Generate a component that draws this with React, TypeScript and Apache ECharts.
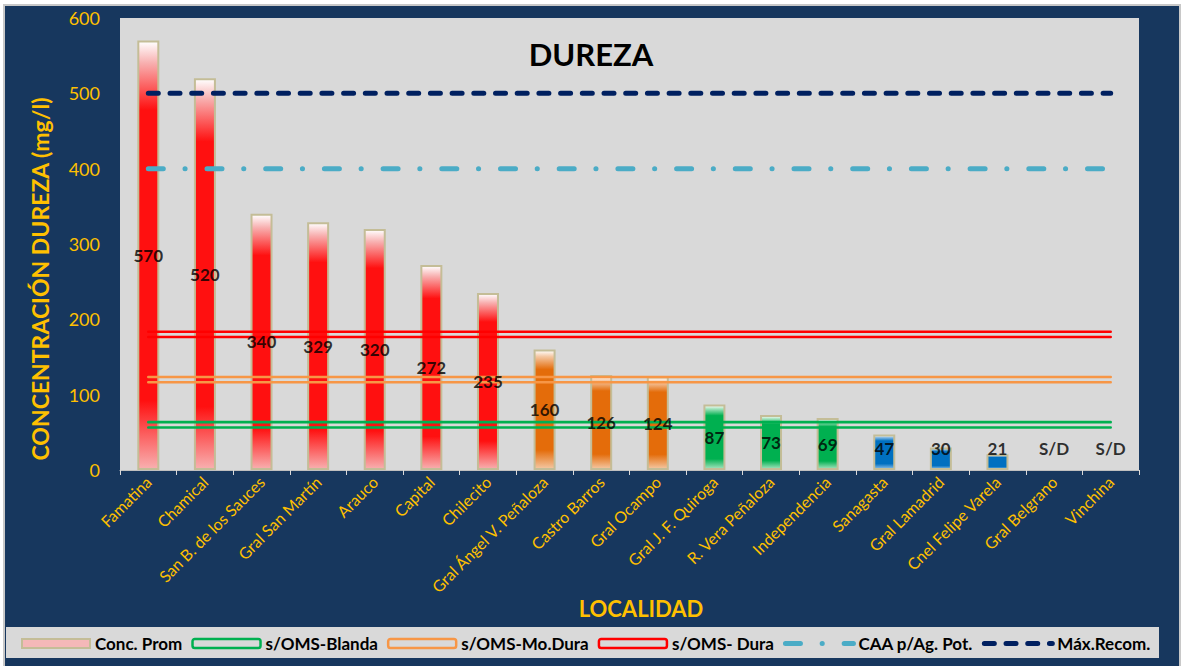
import React, { useEffect, useRef } from "react";
import * as echarts from "echarts";

const categories = [
  "Famatina", "Chamical", "San B. de los Sauces", "Gral San Martín", "Arauco",
  "Capital", "Chilecito", "Gral Ángel V. Peñaloza", "Castro Barros", "Gral Ocampo",
  "Gral J. F. Quiroga", "R. Vera Peñaloza", "Independencia", "Sanagasta",
  "Gral Lamadrid", "Cnel Felipe Varela", "Gral Belgrano", "Vinchina",
];
const concProm: (number | null)[] = [570, 520, 340, 329, 320, 272, 235, 160, 126, 124, 87, 73, 69, 47, 30, 21, null, null];
const omsBlanda = 60;
const omsModDura = 120;
const omsDura = 180;
const caaPot = 400;
const maxRecom = 500;
const yTicks = [0, 100, 200, 300, 400, 500, 600];

const NAVY = "#17375e";
const GOLD = "#ffc000";
const FONT = "Lato";

const W = 1182, H = 666;
const GRID = { left: 120, right: 43, top: 18, bottom: 196 };
const PX_PER_UNIT = (H - GRID.top - GRID.bottom) / (yTicks[yTicks.length - 1] - yTicks[0]);
const DOUBLE_HALF = 2.65 / PX_PER_UNIT; // half distance between the two strokes of a double line
const LABEL_MIN = 29;

const CAA_DASH = [15, 21.7, 0.1, 21.9];
const MAX_DASH = [10, 11.7];

function grad(c: string, light: string) {
  return new echarts.graphic.LinearGradient(0, 0, 0, 1, [
    { offset: 0, color: "#ffffff" },
    { offset: 0.05, color: light },
    { offset: 0.16, color: c },
    { offset: 0.84, color: c },
    { offset: 1, color: light },
  ]);
}

function colorFor(v: number) {
  if (v > omsDura) return grad("#ff1010", "#f8b0b0");
  if (v > omsModDura) return grad("#e46c0a", "#f4c8a4");
  if (v > omsBlanda) return grad("#00b050", "#a8e4c0");
  return grad("#0070c0", "#8fc0e8");
}

export default function App() {
  const ref = useRef<HTMLDivElement>(null);
  useEffect(() => {
    document.body.style.margin = "0";
    const chart = echarts.init(ref.current!, undefined, { renderer: "svg" });

    const flat = (v: number) => categories.map(() => v);
    const doubleLine = (name: string, v: number, color: string) => [
      {
        name, type: "line", data: flat(v + DOUBLE_HALF), symbol: "none", z: 3,
        lineStyle: { color, width: 2.6, cap: "round" }, itemStyle: { color },
      },
      {
        name, type: "line", data: flat(v - DOUBLE_HALF), symbol: "none", z: 3,
        lineStyle: { color, width: 2.6, cap: "round" }, itemStyle: { color },
      },
    ];

    const option: any = {
      animation: false,
      textStyle: { fontFamily: FONT },
      title: {
        text: "DUREZA", left: "center", top: 33,
        textStyle: { fontFamily: FONT, fontWeight: "bold", fontSize: 31, color: "#000" },
      },
      grid: { ...GRID, show: true, backgroundColor: "#d9d9d9", borderWidth: 0 },
      graphic: [
        {
          type: "rect", z: -10, silent: true,
          shape: { x: 4, y: 5, width: 1176, height: 680 },
          style: { fill: NAVY, stroke: "#c8c8c8", lineWidth: 2 },
        },
        {
          type: "rect", z: -5, silent: true,
          shape: { x: 6, y: 627, width: 1153, height: 31 },
          style: { fill: "#d9d9d9" },
        },
        {
          type: "text", x: 40, y: 279, rotation: Math.PI / 2,
          style: {
            text: "CONCENTRACIÓN DUREZA (mg/l)", fill: GOLD, font: `bold 23px ${FONT}`,
            textAlign: "center", textVerticalAlign: "middle",
          },
        },
        {
          type: "text", x: 641, y: 608,
          style: {
            text: "LOCALIDAD", fill: GOLD, font: `bold 22px ${FONT}`,
            textAlign: "center", textVerticalAlign: "middle",
          },
        },
      ],
      legend: {
        left: 16, top: 630, itemWidth: 68, itemHeight: 9, itemGap: 9,
        textStyle: { fontFamily: FONT, fontWeight: "bold", fontSize: 17, color: "#000" },
        data: [
          { name: "Conc. Prom", icon: "rect", itemStyle: { color: grad("#f4b8b8", "#fbe0e0"), borderColor: "#c4bd97", borderWidth: 2 } },
          { name: "s/OMS-Blanda", icon: "roundRect", itemStyle: { color: "rgba(0,0,0,0)", borderColor: "#00b050", borderWidth: 2.5 } },
          { name: "s/OMS-Mo.Dura", icon: "roundRect", itemStyle: { color: "rgba(0,0,0,0)", borderColor: "#f79646", borderWidth: 2.5 } },
          { name: "s/OMS- Dura", icon: "roundRect", itemStyle: { color: "rgba(0,0,0,0)", borderColor: "#ff0000", borderWidth: 2.5 } },
          { name: "CAA p/Ag. Pot.", itemStyle: { opacity: 0 }, lineStyle: { width: 5, type: CAA_DASH, cap: "round", color: "#4bacc6" } },
          { name: "Máx.Recom.", itemStyle: { opacity: 0 }, lineStyle: { width: 5, type: MAX_DASH, cap: "round", color: "#002060" } },
        ],
      },
      xAxis: {
        type: "category", data: categories,
        axisLine: { lineStyle: { color: "#bfbfbf", width: 1 } },
        axisTick: { show: true, length: 5, lineStyle: { color: "#d9d9d9" } },
        axisLabel: { interval: 0, rotate: 45, color: GOLD, fontSize: 16, fontFamily: FONT, margin: 9 },
      },
      yAxis: {
        type: "value", min: 0, max: 600, interval: 100,
        axisLine: { show: false }, axisTick: { show: false }, splitLine: { show: false },
        axisLabel: { color: GOLD, fontSize: 18, fontFamily: FONT, margin: 20 },
      },
      series: [
        {
          name: "Conc. Prom", type: "bar", barWidth: 22, z: 2,
          itemStyle: { color: "#f4b8b8", borderColor: "#c4bd97", borderWidth: 2 },
          data: concProm.map((v) => (v == null ? null : { value: v, itemStyle: { color: colorFor(v), borderColor: "#c4bd97", borderWidth: 2 } })),
        },
        ...doubleLine("s/OMS-Blanda", omsBlanda, "#00b050"),
        ...doubleLine("s/OMS-Mo.Dura", omsModDura, "#f79646"),
        ...doubleLine("s/OMS- Dura", omsDura, "#ff0000"),
        {
          name: "CAA p/Ag. Pot.", type: "line", data: flat(caaPot), symbol: "none", z: 3,
          lineStyle: { color: "#4bacc6", width: 5, cap: "round", type: CAA_DASH },
          itemStyle: { color: "#4bacc6" },
        },
        {
          name: "Máx.Recom.", type: "line", data: flat(maxRecom), symbol: "none", z: 3,
          lineStyle: { color: "#002060", width: 5, cap: "round", type: MAX_DASH },
          itemStyle: { color: "#002060" },
        },
        {
          name: "labels", type: "scatter", z: 5, symbolSize: 0, silent: true,
          data: concProm.map((v) => ({
            value: v == null ? LABEL_MIN : Math.max(v / 2, LABEL_MIN),
            label: {
              show: true, position: "inside", formatter: v == null ? "S/D" : String(v),
              color: "#000", fontWeight: "bold", fontSize: 17, fontFamily: FONT,
            },
          })),
        },
      ],
    };
    chart.setOption(option);
    return () => chart.dispose();
  }, []);
  return <div ref={ref} style={{ width: W, height: H, background: "#fff" }} />;
}
